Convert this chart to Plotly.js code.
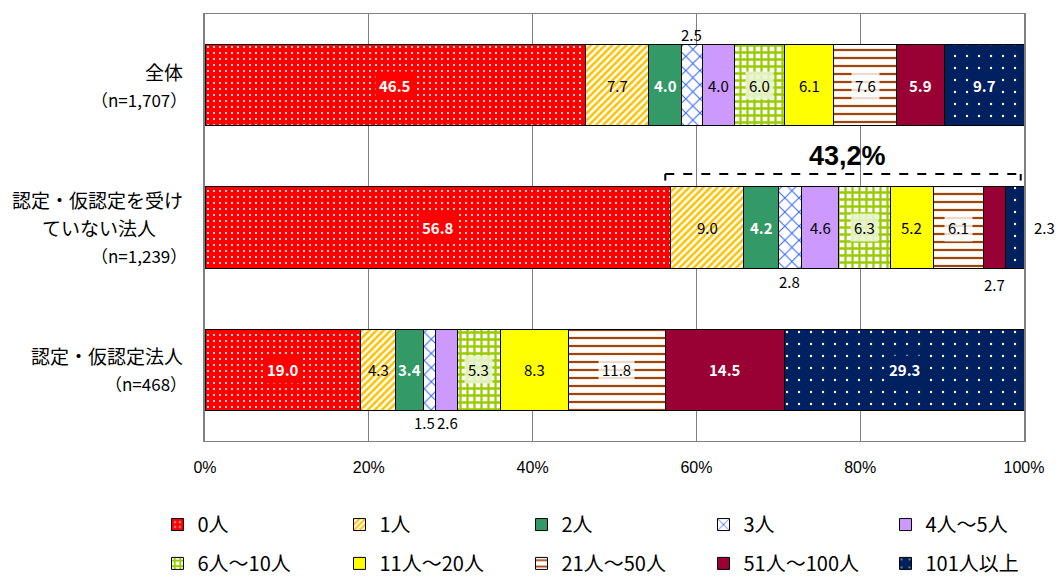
<!DOCTYPE html>
<html><head><meta charset="utf-8">
<script src="https://cdn.plot.ly/plotly-3.0.1.min.js"></script>
<style>html,body{margin:0;padding:0;background:#fff}</style>
</head><body><div id="chart" style="width:1056px;height:581px"></div>
<script>
// ---------- DATA ----------
const categories = ['全体', '認定・仮認定を受けていない法人', '認定・仮認定法人'];
const categoryLines = [['全体'], ['認定・仮認定を受け', 'ていない法人'], ['認定・仮認定法人']];
const nLabels = ['（n=1,707）', '（n=1,239）', '（n=468）'];
const seriesNames = ['0人', '1人', '2人', '3人', '4人～5人', '6人～10人', '11人～20人', '21人～50人', '51人～100人', '101人以上'];
const v0人 = [46.5, 56.8, 19.0];
const v1人 = [7.7, 9.0, 4.3];
const v2人 = [4.0, 4.2, 3.4];
const v3人 = [2.5, 2.8, 1.5];
const v4_5人 = [4.0, 4.6, 2.6];
const v6_10人 = [6.0, 6.3, 5.3];
const v11_20人 = [6.1, 5.2, 8.3];
const v21_50人 = [7.6, 6.1, 11.8];
const v51_100人 = [5.9, 2.7, 14.5];
const v101人以上 = [9.7, 2.3, 29.3];
const xTicks = [0, 20, 40, 60, 80, 100];

const seriesValues = [v0人, v1人, v2人, v3人, v4_5人, v6_10人, v11_20人, v21_50人, v51_100人, v101人以上];

// ---------- STYLE ----------
const JP = '"Noto Sans CJK JP", "Noto Sans", sans-serif';
const NUM = '"Liberation Sans Narrow", "Liberation Sans", Arial, sans-serif';
const styles = [
  {color: '#FF0000', pattern: {shape: '.', bgcolor: '#FF0000', fgcolor: '#FFFFFF', size: 6, solidity: 0.1, fillmode: 'replace'}},
  {color: '#FFC000', pattern: {shape: '/', bgcolor: '#FFFFFF', fgcolor: '#FFC000', size: 5, solidity: 0.5, fillmode: 'replace'}},
  {color: '#339966'},
  {color: '#3366FF', pattern: {shape: 'x', bgcolor: '#FFFFFF', fgcolor: '#3366FF', size: 10, solidity: 0.2, fillmode: 'replace'}},
  {color: '#CC99FF'},
  {color: '#99CC00', pattern: {shape: '+', bgcolor: '#FFFFFF', fgcolor: '#99CC00', size: 7, solidity: 0.55, fillmode: 'replace'}},
  {color: '#FFFF00'},
  {color: '#993300', pattern: {shape: '-', bgcolor: '#FFFFFF', fgcolor: '#A0450A', size: 8, solidity: 0.28, fillmode: 'replace'}},
  {color: '#990033'},
  {color: '#002060', pattern: {shape: '.', bgcolor: '#002060', fgcolor: '#FFFFFF', size: 12, solidity: 0.03, fillmode: 'replace'}}
];
const labelWhiteBold = [true, false, true, false, false, false, false, false, true, true];
const labelBg = ['#FF0000', 'rgba(0,0,0,0)', 'rgba(0,0,0,0)', 'rgba(0,0,0,0)', 'rgba(0,0,0,0)',
  'rgba(232,244,204,0.9)', 'rgba(0,0,0,0)', 'rgba(255,255,255,0.8)', 'rgba(0,0,0,0)', '#002060'];
// label placement for small segments: key "series-category"
const outside = {
  '3-0': {dy: 51, dx: 0},
  '3-1': {dy: -54, dx: 0},
  '8-1': {dy: -57, dx: 0},
  '9-1': {right: true},
  '3-2': {dy: -53, dx: -5},
  '4-2': {dy: -53, dx: 1}
};

// ---------- TRACES ----------
const traces = seriesNames.map((name, i) => {
  const marker = {color: styles[i].color, line: {color: '#000000', width: 1}};
  if (styles[i].pattern) marker.pattern = styles[i].pattern;
  return {
    type: 'bar', orientation: 'h', name: name,
    y: categories, x: seriesValues[i],
    marker: marker, hoverinfo: 'skip',
    legend: i < 5 ? 'legend' : 'legend2'
  };
});

// ---------- ANNOTATIONS ----------
const annotations = [];
categories.forEach((cat, j) => {
  let start = 0;
  seriesValues.forEach((vals, i) => {
    const v = vals[j];
    const key = i + '-' + j;
    const txt = v.toFixed(1);
    const o = outside[key];
    if (o && o.right) {
      annotations.push({x: start + v, y: cat, xref: 'x', yref: 'y', text: txt, showarrow: false,
        xanchor: 'left', xshift: 8, font: {family: JP, size: 15, color: '#000'}});
    } else if (o) {
      annotations.push({x: start + v / 2, y: cat, xref: 'x', yref: 'y', text: txt, showarrow: false,
        yshift: o.dy, xshift: o.dx, font: {family: JP, size: 15, color: '#000'}});
    } else {
      const wb = labelWhiteBold[i];
      annotations.push({x: start + v / 2, y: cat, xref: 'x', yref: 'y',
        text: wb ? '<b>' + txt + '</b>' : txt, showarrow: false,
        bgcolor: labelBg[i], borderpad: 3,
        font: {family: JP, size: 15, color: wb ? '#FFFFFF' : '#000000'}});
    }
    start += v;
  });
});

// category labels
const canvas = document.createElement('canvas');
const ctx = canvas.getContext('2d');
function textWidth(s, size) { ctx.font = size + 'px ' + JP; return ctx.measureText(s).width; }
const lineGap = 28;
categoryLines.forEach((lines, j) => {
  const all = lines.concat([nLabels[j]]);
  const L = all.length;
  const firstW = textWidth(lines[0], 19);
  all.forEach((ln, k) => {
    const off = (k - (L - 1) / 2) * lineGap;
    const isN = k === L - 1;
    const a = {x: 0, y: categories[j], xref: 'paper', yref: 'y', text: ln, showarrow: false,
      yshift: -off, font: {family: JP, size: isN ? 17 : 19, color: '#000'}};
    if (isN) { a.xanchor = 'right'; a.xshift = -16; }
    else if (k === 0) { a.xanchor = 'right'; a.xshift = -20; }
    else { a.xanchor = 'center'; a.xshift = -20 - firstW / 2; }
    annotations.push(a);
  });
});

// bracket + total label for category 2
const bracketStart = v0人[1];
const restTotal = 100 - v0人[1];
annotations.push({x: (bracketStart + 100) / 2, y: 0.5, xref: 'x', yref: 'y',
  text: '<b>' + restTotal.toFixed(1).replace('.', ',') + '%</b>', showarrow: false,
  font: {family: '"Liberation Sans", Arial, sans-serif', size: 27, color: '#000'}});

const bY = 0.624, bY2 = 0.67;
const dash = {color: '#000', width: 2, dash: 'dash'};
const shapes = [
  {type: 'line', xref: 'x', yref: 'y', x0: bracketStart - 0.6, x1: 99.6, y0: bY, y1: bY, line: dash},
  {type: 'line', xref: 'x', yref: 'y', x0: bracketStart - 0.6, x1: bracketStart - 0.6, y0: bY, y1: bY2, line: {color: '#000', width: 2}},
  {type: 'line', xref: 'x', yref: 'y', x0: 99.6, x1: 99.6, y0: bY, y1: bY2, line: {color: '#000', width: 2}}
];

const legendBase = {orientation: 'h', x: -0.058, xanchor: 'left', yanchor: 'top',
  entrywidth: 137, entrywidthmode: 'pixels', itemwidth: 30,
  font: {family: JP, size: 20, color: '#000'}, bgcolor: 'rgba(0,0,0,0)', traceorder: 'normal'};

const layout = {
  width: 1056, height: 581,
  margin: {l: 205, r: 32, t: 14, b: 140, autoexpand: false},
  paper_bgcolor: '#FFFFFF', plot_bgcolor: '#FFFFFF',
  barmode: 'stack', bargap: 0.43,
  showlegend: true,
  xaxis: {range: [0, 100], tickvals: xTicks, ticktext: xTicks.map(t => t + '%'),
    showgrid: true, gridcolor: '#808080', gridwidth: 1, zeroline: false,
    showline: true, mirror: true, linecolor: '#808080', linewidth: 1,
    ticks: '', ticklabelstandoff: 12,
    tickfont: {family: NUM, size: 16, color: '#000'}, fixedrange: true},
  yaxis: {type: 'category', categoryorder: 'array', categoryarray: categories,
    range: [2.5, -0.5], showticklabels: false, showgrid: false, zeroline: false,
    showline: true, mirror: true, linecolor: '#808080', linewidth: 2, ticks: '', fixedrange: true},
  legend: Object.assign({}, legendBase, {y: -0.15}),
  legend2: Object.assign({}, legendBase, {y: -0.241}),
  annotations: annotations,
  shapes: shapes
};

Plotly.newPlot('chart', traces, layout, {displayModeBar: false, staticPlot: true});
</script>
</body></html>
